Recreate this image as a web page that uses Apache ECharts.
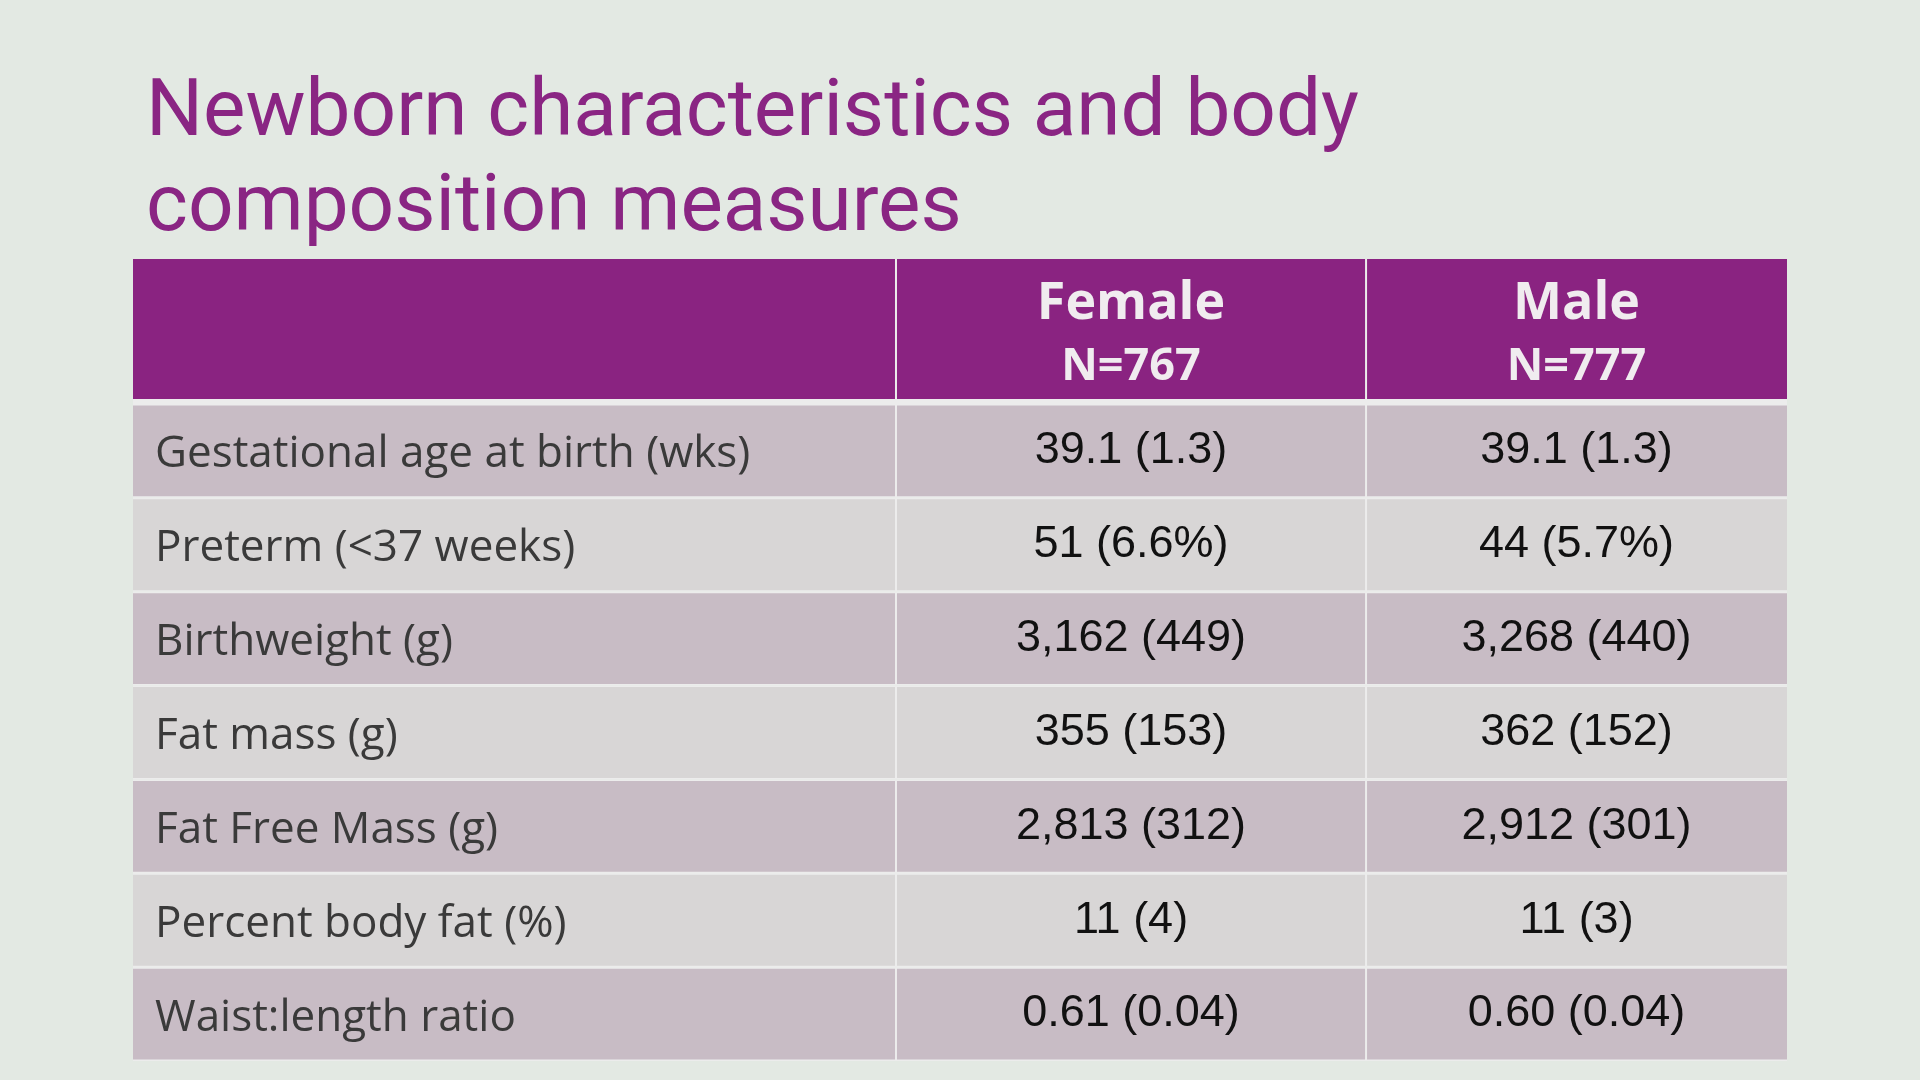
<!DOCTYPE html>
<html>
<head>
<meta charset="utf-8">
<title>Newborn characteristics and body composition measures</title>
<script src="https://cdn.jsdelivr.net/npm/echarts@6/dist/echarts.min.js"></script>
<style>
  html, body { margin: 0; padding: 0; background: #e3e9e3; }
  #chart { width: 1920px; height: 1080px; }
</style>
</head>
<body>
<div id="chart"></div>
<script>
// table content
const titleText = 'Newborn characteristics and body\ncomposition measures'
const groups = ['Female', 'Male']
const groupN = ['N=767', 'N=777']
const rowLabels = [
  'Gestational age at birth (wks)',
  'Preterm (<37 weeks)',
  'Birthweight (g)',
  'Fat mass (g)',
  'Fat Free Mass (g)',
  'Percent body fat (%)',
  'Waist:length ratio',
]
const femaleValues = ['39.1 (1.3)', '51 (6.6%)', '3,162 (449)', '355 (153)', '2,813 (312)', '11 (4)', '0.61 (0.04)']
const maleValues = ['39.1 (1.3)', '44 (5.7%)', '3,268 (440)', '362 (152)', '2,912 (301)', '11 (3)', '0.60 (0.04)']

// column edges on a 0..1 x axis (layout only)
const colEdges = [0, 0.4613, 0.7455, 1]

const purple = '#8a2381'
const lineColor = '#ececec'
const rowColors = ['#c8bcc5', '#d8d6d6']

const chart = echarts.init(document.getElementById('chart'))

// one row of the body: backdrop + three cells + texts
function renderBodyRow(params, api) {
  const i = api.value(0)
  const top = api.coord([0, i])[1] - api.size([0, 1])[1] / 2
  const h = api.size([0, 1])[1]
  const xs = colEdges.map((e) => api.coord([e, i])[0])
  const cy = top + h / 2
  const fill = rowColors[i % 2]
  const children = [
    { type: 'rect', shape: { x: xs[0], y: top, width: xs[3] - xs[0], height: h }, style: { fill: lineColor } },
  ]
  for (let c = 0; c < 3; c++) {
    const l = c === 0 ? xs[0] : xs[c] + 1
    const r = c === 2 ? xs[3] : xs[c + 1] - 1
    children.push({
      type: 'rect',
      shape: { x: l, y: top + 1.5, width: r - l, height: h - 3 },
      style: { fill: fill },
    })
  }
  children.push({
    type: 'text',
    style: {
      text: rowLabels[i], x: xs[0] + 22, y: cy + 4,
      fill: '#3a3a3a', font: '44px "Open Sans"',
      textAlign: 'left', textVerticalAlign: 'middle',
    },
  })
  const vals = [femaleValues[i], maleValues[i]]
  for (let c = 0; c < 2; c++) {
    children.push({
      type: 'text',
      style: {
        text: vals[c], x: (xs[c + 1] + xs[c + 2]) / 2, y: cy,
        fill: '#111111', font: '45px "Liberation Sans"',
        textAlign: 'center', textVerticalAlign: 'middle',
      },
    })
  }
  return { type: 'group', children: children }
}

function renderHeader(params, api) {
  const top = api.coord([0, 0])[1] - api.size([0, 1])[1] / 2
  const h = api.size([0, 1])[1]
  const xs = colEdges.map((e) => api.coord([e, 0])[0])
  const children = [
    { type: 'rect', shape: { x: xs[0], y: top, width: xs[3] - xs[0], height: h + 6 }, style: { fill: lineColor } },
  ]
  for (let c = 0; c < 3; c++) {
    const l = c === 0 ? xs[0] : xs[c] + 1
    const r = c === 2 ? xs[3] : xs[c + 1] - 1
    children.push({ type: 'rect', shape: { x: l, y: top, width: r - l, height: h }, style: { fill: purple } })
  }
  for (let c = 0; c < 2; c++) {
    const cx = (xs[c + 1] + xs[c + 2]) / 2
    children.push({
      type: 'text',
      style: {
        text: groups[c], x: cx, y: top + 45, fill: '#f0ecef',
        font: 'bold 52px "Open Sans"', textAlign: 'center', textVerticalAlign: 'middle',
      },
    })
    children.push({
      type: 'text',
      style: {
        text: groupN[c], x: cx, y: top + 108, fill: '#f0ecef',
        font: 'bold 45px "Open Sans"', textAlign: 'center', textVerticalAlign: 'middle',
      },
    })
  }
  return { type: 'group', children: children }
}

const option = {
  backgroundColor: '#e3e9e3',
  animation: false,
  title: {
    text: titleText,
    left: 141,
    top: 62,
    textStyle: {
      color: '#8a2583',
      fontFamily: 'Roboto',
      fontWeight: 'normal',
      fontSize: 80,
      lineHeight: 95,
    },
  },
  grid: [
    { left: 133, right: 133, top: 259, height: 140 },
    { left: 133, right: 133, top: 404, height: 657 },
  ],
  xAxis: [
    { type: 'value', gridIndex: 0, min: 0, max: 1, show: false },
    { type: 'value', gridIndex: 1, min: 0, max: 1, show: false },
  ],
  yAxis: [
    { type: 'category', gridIndex: 0, data: ['header'], show: false },
    { type: 'category', gridIndex: 1, data: rowLabels, inverse: true, show: false },
  ],
  series: [
    {
      type: 'custom',
      xAxisIndex: 0,
      yAxisIndex: 0,
      renderItem: renderHeader,
      data: [[0, 0]],
      encode: { x: -1, y: 0 },
      silent: true,
    },
    {
      type: 'custom',
      xAxisIndex: 1,
      yAxisIndex: 1,
      renderItem: renderBodyRow,
      data: rowLabels.map((_, i) => [i]),
      encode: { y: 0 },
      silent: true,
    },
  ],
}

chart.setOption(option)
</script>
</body>
</html>
